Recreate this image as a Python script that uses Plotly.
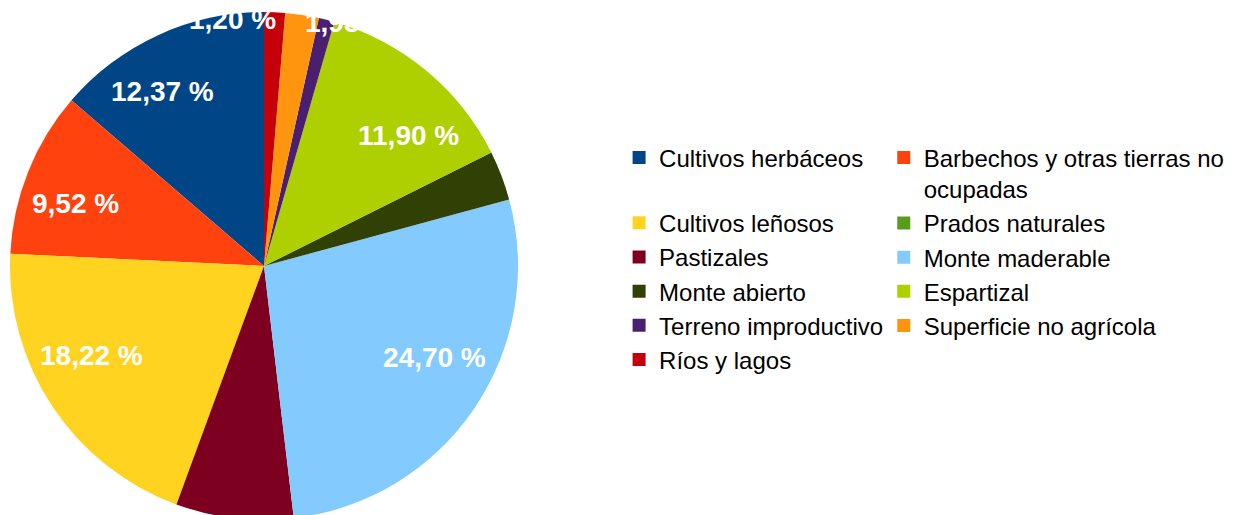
import math
import plotly.graph_objects as go

# ---- data ----
categories = [
    "Cultivos herbáceos",
    "Barbechos y otras tierras no<br>ocupadas",
    "Cultivos leñosos",
    "Prados naturales",
    "Pastizales",
    "Monte maderable",
    "Monte abierto",
    "Espartizal",
    "Terreno improductivo",
    "Superficie no agrícola",
    "Ríos y lagos",
]
values = [12.37, 9.52, 18.22, 0.0, 6.75, 24.70, 2.85, 11.90, 0.90, 1.93, 1.20]
show_label = [True, True, True, False, False, True, False, True, False, True, True]
colors = ["#004586", "#ff420e", "#ffd320", "#579d1c", "#7e0021", "#83caff",
          "#314004", "#aecf00", "#4b1f6f", "#ff950e", "#c5000b"]

# ---- label placement style: (radial fraction, x nudge px, y nudge px) ----
label_style = {
    "Cultivos herbáceos": (0.775, -19, -4),
    "Barbechos y otras tierras no<br>ocupadas": (0.775, -6, -10),
    "Cultivos leñosos": (0.775, -8, 19),
    "Monte maderable": (0.775, 7, 19),
    "Espartizal": (0.775, 19, -21),
    "Superficie no agrícola": (0.97, 48, 0),
    "Ríos y lagos": (0.97, -42, 0),
}
default_style = (0.775, 0, 0)

FONT = "Liberation Sans, Arial, sans-serif"
W, H = 1233, 515
ML, MT = 2, 4
side = 508

total = sum(values)
start_rotation = -360.0 * values[0] / total   # first slice starts at 12 o'clock, going counter-clockwise

fig = go.Figure()
fig.add_trace(go.Pie(
    labels=categories,
    values=values,
    sort=False,
    direction="counterclockwise",
    rotation=start_rotation,
    marker=dict(colors=colors, line=dict(width=0)),
    textinfo="none",
    hoverinfo="skip",
    showlegend=False,
    domain=dict(x=[0, 1], y=[0, 1]),
))

# legend entries (two columns, row-major order as in the original)
for i, (cat, col) in enumerate(zip(categories, colors)):
    left_col = (i % 2 == 0)
    fig.add_trace(go.Scatter(
        x=[None], y=[None], mode="markers",
        marker=dict(symbol="square", size=13, color=col),
        name=cat,
        legend="legend" if left_col else "legend2",
        legendgroup=("first" if i == 0 else "rest") if left_col else None,
        hoverinfo="skip",
        showlegend=True,
    ))

cum = 0.0
annotations = []
for cat, v, show in zip(categories, values, show_label):
    mid = (cum + v / 2) / total * 2 * math.pi
    cum += v
    if not show:
        continue
    k, xs, ys = label_style.get(cat, default_style)
    x = 0.5 - 0.5 * k * math.sin(mid)
    y = 0.5 + 0.5 * k * math.cos(mid)
    txt = f"{v:.2f}".replace(".", ",") + " %"
    annotations.append(dict(
        x=x, y=y, xref="paper", yref="paper", text=txt, showarrow=False,
        xanchor="center", yanchor="middle", xshift=xs, yshift=ys,
        font=dict(family=FONT, size=28, color="white", weight="bold"),
    ))

legend_common = dict(
    orientation="v",
    xanchor="left", yanchor="top",
    font=dict(family=FONT, size=24, color="black"),
    bgcolor="rgba(0,0,0,0)",
    itemclick=False, itemdoubleclick=False,
    valign="top",
)

fig.update_layout(
    width=W, height=H,
    margin=dict(l=ML, r=W - ML - side, t=MT, b=H - MT - side, autoexpand=False),
    paper_bgcolor="white",
    plot_bgcolor="white",
    xaxis=dict(visible=False),
    yaxis=dict(visible=False),
    annotations=annotations,
    showlegend=True,
    legend=dict(x=1.199, y=0.757, tracegroupgap=31, traceorder="grouped", **legend_common),
    legend2=dict(x=1.720, y=0.757, traceorder="normal", **legend_common),
)

fig.write_html("out.html")
